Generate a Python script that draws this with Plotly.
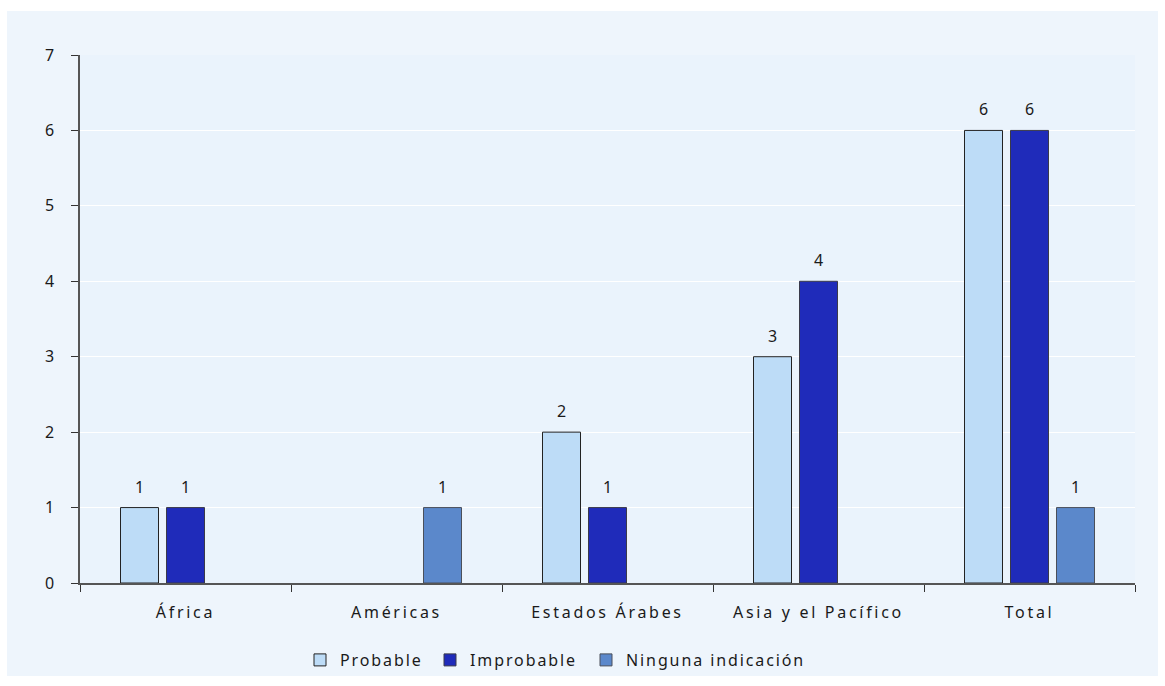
import plotly.graph_objects as go

categories = ["África", "Américas", "Estados Árabes", "Asia y el Pacífico", "Total"]
probable = [1, None, 2, 3, 6]
improbable = [1, None, 1, 4, 6]
ninguna = [None, 1, None, None, 1]

series = [
    ("Probable", probable, "#BDDCF7", "#222222", "legend", 310),
    ("Improbable", improbable, "#1F2BBA", "#3a3a4a", "legend2", 440),
    ("Ninguna indicación", ninguna, "#5B88CB", "#4a4f5a", "legend3", 596),
]

FONT = "Noto Sans, Open Sans, sans-serif"
W, H = 1151, 665
OX, OY = 7, 11  # page offset of the chart

fig = go.Figure()
for name, vals, color, lcolor, leg, _ in series:
    fig.add_trace(go.Bar(
        x=categories, y=vals, name=name, legend=leg,
        marker=dict(color=color, line=dict(color=lcolor, width=1)),
    ))
for name, vals, color, lcolor, leg, _ in series:
    fig.add_trace(go.Scatter(
        x=categories, y=vals, mode="markers+text", showlegend=False,
        marker=dict(size=16, color="rgba(0,0,0,0)"),
        text=[None if v is None else str(v) for v in vals],
        textposition="top center",
        textfont=dict(size=16, color="#1a1a1a", family=FONT),
        cliponaxis=False, hoverinfo="skip",
    ))

legend_common = dict(orientation="h", xref="container", yref="container",
                     xanchor="left", yanchor="middle",
                     font=dict(size=16, color="#1a1a1a", family=FONT),
                     itemwidth=30, entrywidth=210, entrywidthmode="pixels",
                     bgcolor="rgba(0,0,0,0)", borderwidth=0)
legends = {}
for name, vals, color, lcolor, leg, px in series:
    legends[leg] = dict(legend_common, x=(px - OX - 10) / W, y=1 - (660 - OY) / H)

fig.update_layout(
    width=W, height=H,
    margin=dict(l=73, r=23, t=44, b=93),
    paper_bgcolor="#EEF5FC",
    plot_bgcolor="#EAF3FC",
    barmode="group",
    bargap=0.346,
    bargroupgap=0.174,
    scattermode="group",
    scattergap=0.346,
    font=dict(family=FONT, size=16, color="#1a1a1a"),
    showlegend=True,
    xaxis=dict(
        showline=True, linecolor="#555555", linewidth=1.5,
        ticks="outside", tickson="boundaries", ticklen=7, tickcolor="#333333",
        tickfont=dict(size=16), showgrid=False, ticklabelstandoff=14,
    ),
    yaxis=dict(
        range=[0, 7], dtick=1, showline=True, linecolor="#555555", linewidth=1.5,
        ticks="outside", ticklen=7, tickcolor="#333333",
        gridcolor="#FFFFFF", gridwidth=1, zeroline=False,
        tickfont=dict(size=16), ticklabelstandoff=14,
    ),
    **legends,
)

post = (
    "document.body.style.margin='11px 0 0 7px';"
    "document.body.style.background='#FFFFFF';"
    "var st=document.createElement('style');"
    "st.textContent='.infolayer text, svg[class^=legend] text, .legendtext {letter-spacing:1.9px !important;} .xtick text {letter-spacing:2.7px;}';"
    "document.head.appendChild(st);"
)
fig.write_html("out.html", post_script=post)
